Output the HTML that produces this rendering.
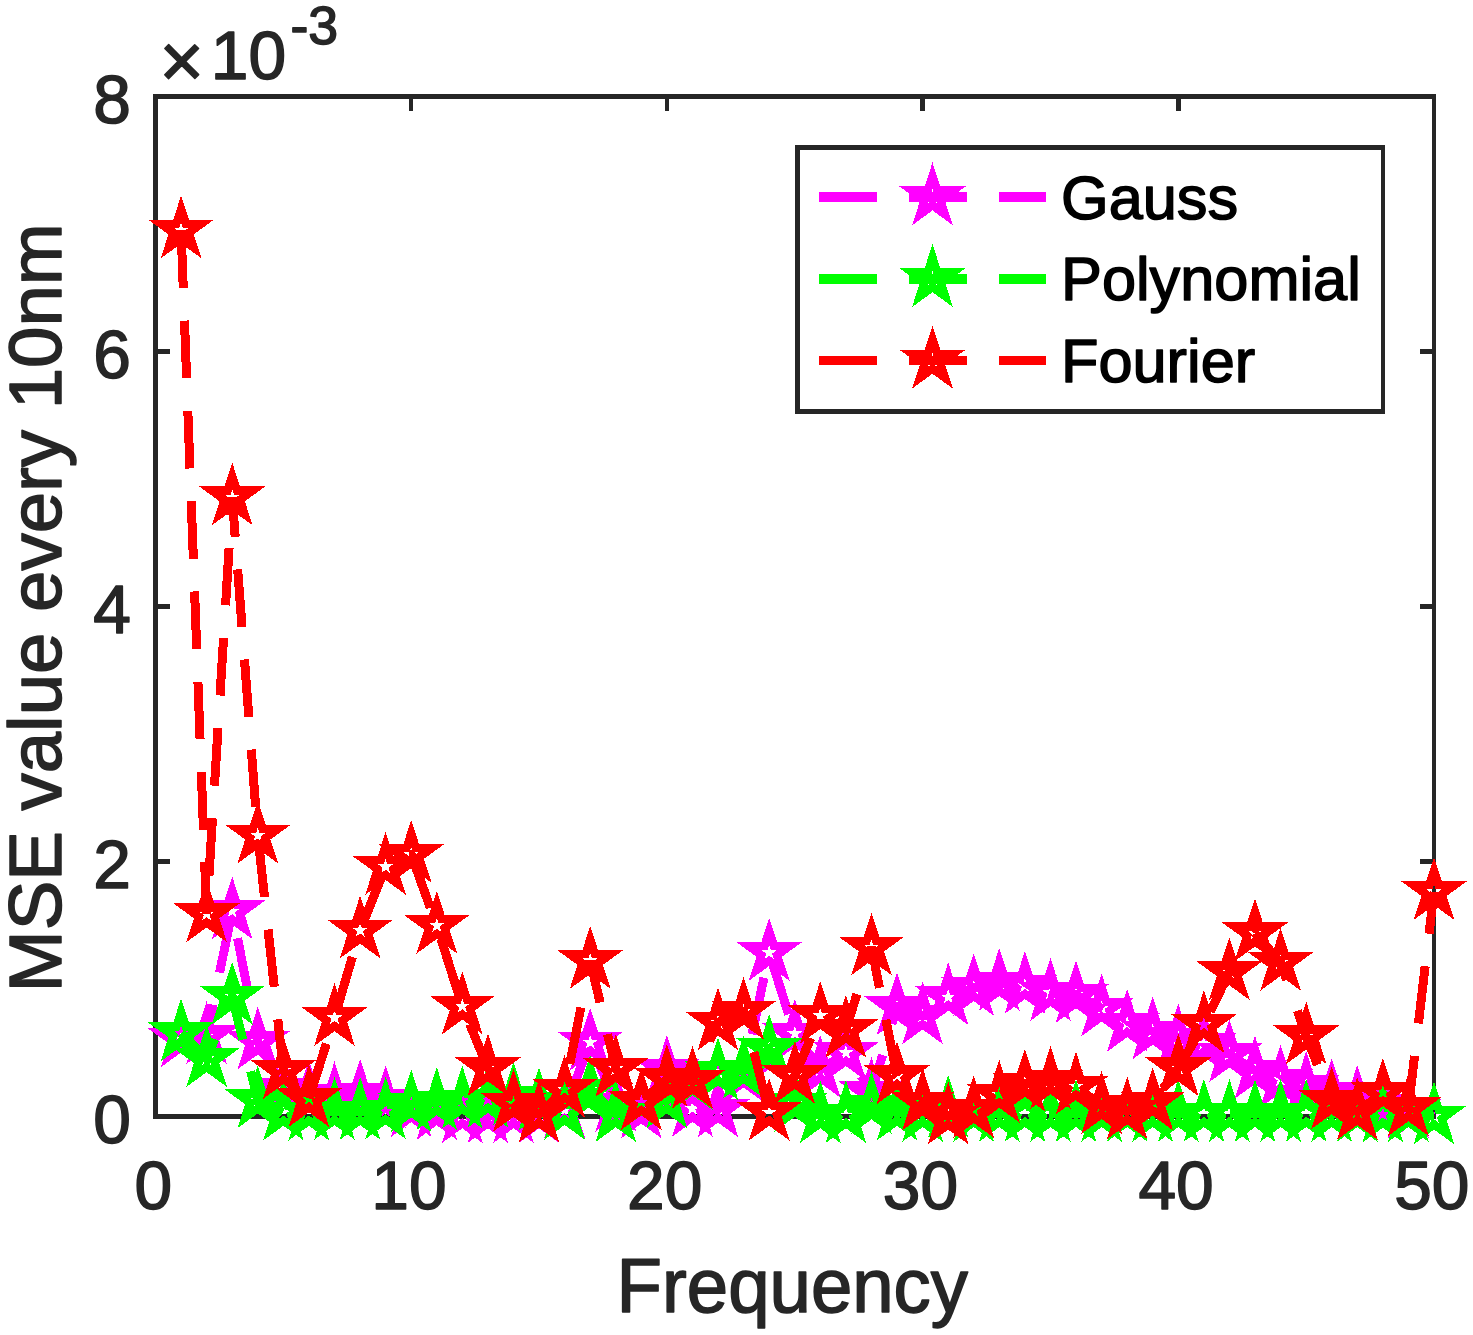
<!DOCTYPE html>
<html lang="en"><head><meta charset="utf-8"><title>MSE value every 10nm vs Frequency</title>
<style>html,body{margin:0;padding:0;background:#fff}body{width:1473px;height:1335px;overflow:hidden}</style>
</head><body>
<svg width="1473" height="1335" viewBox="0 0 1473 1335" style="display:block">
<defs><path id="st" d="M0.00 -21.30 L4.78 -6.58 L20.26 -6.58 L7.74 2.51 L12.52 17.23 L0.00 8.14 L-12.52 17.23 L-7.74 2.51 L-20.26 -6.58 L-4.78 -6.58Z"/></defs>
<rect width="1473" height="1335" fill="#fff"/>
<g stroke="#262626" stroke-width="4.50" fill="none" shape-rendering="crispEdges">
<rect x="155.5" y="96.4" width="1278.5" height="1019.9"/>
<path d="M411.2 1116.3V1102.1 M411.2 96.4V110.6"/>
<path d="M666.9 1116.3V1102.1 M666.9 96.4V110.6"/>
<path d="M922.6 1116.3V1102.1 M922.6 96.4V110.6"/>
<path d="M1178.3 1116.3V1102.1 M1178.3 96.4V110.6"/>
<path d="M155.5 861.3H169.7 M1434.0 861.3H1419.8"/>
<path d="M155.5 606.3H169.7 M1434.0 606.3H1419.8"/>
<path d="M155.5 351.4H169.7 M1434.0 351.4H1419.8"/>
</g>
<g shape-rendering="crispEdges">
<polyline fill="none" stroke="#ff00ff" stroke-width="9.00" stroke-dasharray="57.65 32.7" stroke-linejoin="miter" points="181.1,1039.2 206.6,1036.0 232.2,911.2 257.8,1041.3 283.4,1088.3 308.9,1094.6 334.5,1096.2 360.1,1093.6 385.6,1100.1 411.2,1109.0 436.8,1112.0 462.3,1115.0 487.9,1115.0 513.5,1115.0 539.0,1115.0 564.6,1109.9 590.2,1042.4 615.8,1103.6 641.3,1110.4 666.9,1069.8 692.5,1108.7 718.0,1109.3 743.6,1074.2 769.2,952.7 794.8,1033.9 820.3,1069.8 845.9,1052.8 871.5,1092.1 897.0,1007.0 922.6,1016.2 948.2,997.1 973.7,987.8 999.3,982.7 1024.9,985.8 1050.5,992.9 1076.0,994.9 1101.6,1008.3 1127.2,1023.9 1152.7,1031.4 1178.3,1038.5 1203.9,1043.6 1229.4,1054.2 1255.0,1070.7 1280.6,1079.6 1306.2,1086.0 1331.7,1093.1 1357.3,1099.7 1382.9,1104.8 1408.4,1109.9 1434.0,1116.3"/>
<g fill="none" stroke="#ff00ff" stroke-width="8.33" stroke-linejoin="miter" stroke-miterlimit="10">
<use href="#st" x="181.1" y="1039.2"/>
<use href="#st" x="206.6" y="1036.0"/>
<use href="#st" x="232.2" y="911.2"/>
<use href="#st" x="257.8" y="1041.3"/>
<use href="#st" x="283.4" y="1088.3"/>
<use href="#st" x="308.9" y="1094.6"/>
<use href="#st" x="334.5" y="1096.2"/>
<use href="#st" x="360.1" y="1093.6"/>
<use href="#st" x="385.6" y="1100.1"/>
<use href="#st" x="411.2" y="1109.0"/>
<use href="#st" x="436.8" y="1112.0"/>
<use href="#st" x="462.3" y="1115.0"/>
<use href="#st" x="487.9" y="1115.0"/>
<use href="#st" x="513.5" y="1115.0"/>
<use href="#st" x="539.0" y="1115.0"/>
<use href="#st" x="564.6" y="1109.9"/>
<use href="#st" x="590.2" y="1042.4"/>
<use href="#st" x="615.8" y="1103.6"/>
<use href="#st" x="641.3" y="1110.4"/>
<use href="#st" x="666.9" y="1069.8"/>
<use href="#st" x="692.5" y="1108.7"/>
<use href="#st" x="718.0" y="1109.3"/>
<use href="#st" x="743.6" y="1074.2"/>
<use href="#st" x="769.2" y="952.7"/>
<use href="#st" x="794.8" y="1033.9"/>
<use href="#st" x="820.3" y="1069.8"/>
<use href="#st" x="845.9" y="1052.8"/>
<use href="#st" x="871.5" y="1092.1"/>
<use href="#st" x="897.0" y="1007.0"/>
<use href="#st" x="922.6" y="1016.2"/>
<use href="#st" x="948.2" y="997.1"/>
<use href="#st" x="973.7" y="987.8"/>
<use href="#st" x="999.3" y="982.7"/>
<use href="#st" x="1024.9" y="985.8"/>
<use href="#st" x="1050.5" y="992.9"/>
<use href="#st" x="1076.0" y="994.9"/>
<use href="#st" x="1101.6" y="1008.3"/>
<use href="#st" x="1127.2" y="1023.9"/>
<use href="#st" x="1152.7" y="1031.4"/>
<use href="#st" x="1178.3" y="1038.5"/>
<use href="#st" x="1203.9" y="1043.6"/>
<use href="#st" x="1229.4" y="1054.2"/>
<use href="#st" x="1255.0" y="1070.7"/>
<use href="#st" x="1280.6" y="1079.6"/>
<use href="#st" x="1306.2" y="1086.0"/>
<use href="#st" x="1331.7" y="1093.1"/>
<use href="#st" x="1357.3" y="1099.7"/>
<use href="#st" x="1382.9" y="1104.8"/>
<use href="#st" x="1408.4" y="1109.9"/>
<use href="#st" x="1434.0" y="1116.3"/>
</g></g>
<g shape-rendering="crispEdges">
<polyline fill="none" stroke="#00ff00" stroke-width="9.00" stroke-dasharray="57.65 32.7" stroke-linejoin="miter" points="181.1,1033.2 206.6,1058.9 232.2,996.5 257.8,1100.2 283.4,1112.5 308.9,1112.5 334.5,1111.8 360.1,1111.8 385.6,1111.2 411.2,1104.2 436.8,1102.0 462.3,1100.5 487.9,1099.7 513.5,1096.8 539.0,1102.3 564.6,1111.7 590.2,1089.5 615.8,1114.0 641.3,1102.1 666.9,1100.2 692.5,1081.9 718.0,1072.2 743.6,1070.3 769.2,1049.0 794.8,1103.6 820.3,1115.0 845.9,1115.0 871.5,1106.1 897.0,1112.5 922.6,1113.8 948.2,1109.9 973.7,1113.8 999.3,1113.8 1024.9,1113.8 1050.5,1113.8 1076.0,1113.8 1101.6,1113.8 1127.2,1113.8 1152.7,1113.8 1178.3,1113.8 1203.9,1113.8 1229.4,1113.8 1255.0,1113.8 1280.6,1113.8 1306.2,1113.8 1331.7,1113.8 1357.3,1113.8 1382.9,1114.4 1408.4,1113.8 1434.0,1116.3"/>
<g fill="none" stroke="#00ff00" stroke-width="8.33" stroke-linejoin="miter" stroke-miterlimit="10">
<use href="#st" x="181.1" y="1033.2"/>
<use href="#st" x="206.6" y="1058.9"/>
<use href="#st" x="232.2" y="996.5"/>
<use href="#st" x="257.8" y="1100.2"/>
<use href="#st" x="283.4" y="1112.5"/>
<use href="#st" x="308.9" y="1112.5"/>
<use href="#st" x="334.5" y="1111.8"/>
<use href="#st" x="360.1" y="1111.8"/>
<use href="#st" x="385.6" y="1111.2"/>
<use href="#st" x="411.2" y="1104.2"/>
<use href="#st" x="436.8" y="1102.0"/>
<use href="#st" x="462.3" y="1100.5"/>
<use href="#st" x="487.9" y="1099.7"/>
<use href="#st" x="513.5" y="1096.8"/>
<use href="#st" x="539.0" y="1102.3"/>
<use href="#st" x="564.6" y="1111.7"/>
<use href="#st" x="590.2" y="1089.5"/>
<use href="#st" x="615.8" y="1114.0"/>
<use href="#st" x="641.3" y="1102.1"/>
<use href="#st" x="666.9" y="1100.2"/>
<use href="#st" x="692.5" y="1081.9"/>
<use href="#st" x="718.0" y="1072.2"/>
<use href="#st" x="743.6" y="1070.3"/>
<use href="#st" x="769.2" y="1049.0"/>
<use href="#st" x="794.8" y="1103.6"/>
<use href="#st" x="820.3" y="1115.0"/>
<use href="#st" x="845.9" y="1115.0"/>
<use href="#st" x="871.5" y="1106.1"/>
<use href="#st" x="897.0" y="1112.5"/>
<use href="#st" x="922.6" y="1113.8"/>
<use href="#st" x="948.2" y="1109.9"/>
<use href="#st" x="973.7" y="1113.8"/>
<use href="#st" x="999.3" y="1113.8"/>
<use href="#st" x="1024.9" y="1113.8"/>
<use href="#st" x="1050.5" y="1113.8"/>
<use href="#st" x="1076.0" y="1113.8"/>
<use href="#st" x="1101.6" y="1113.8"/>
<use href="#st" x="1127.2" y="1113.8"/>
<use href="#st" x="1152.7" y="1113.8"/>
<use href="#st" x="1178.3" y="1113.8"/>
<use href="#st" x="1203.9" y="1113.8"/>
<use href="#st" x="1229.4" y="1113.8"/>
<use href="#st" x="1255.0" y="1113.8"/>
<use href="#st" x="1280.6" y="1113.8"/>
<use href="#st" x="1306.2" y="1113.8"/>
<use href="#st" x="1331.7" y="1113.8"/>
<use href="#st" x="1357.3" y="1113.8"/>
<use href="#st" x="1382.9" y="1114.4"/>
<use href="#st" x="1408.4" y="1113.8"/>
<use href="#st" x="1434.0" y="1116.3"/>
</g></g>
<g shape-rendering="crispEdges">
<polyline fill="none" stroke="#ff0000" stroke-width="9.00" stroke-dasharray="57.65 32.7" stroke-linejoin="miter" points="181.1,230.3 206.6,914.2 232.2,497.2 257.8,835.4 283.4,1070.8 308.9,1099.0 334.5,1017.9 360.1,930.4 385.6,866.8 411.2,854.8 436.8,925.6 462.3,1006.3 487.9,1068.1 513.5,1103.6 539.0,1114.4 564.6,1089.5 590.2,960.8 615.8,1068.9 641.3,1102.0 666.9,1078.7 692.5,1080.6 718.0,1022.3 743.6,1011.5 769.2,1112.5 794.8,1075.8 820.3,1015.8 845.9,1029.6 871.5,947.3 897.0,1076.1 922.6,1102.3 948.2,1116.3 973.7,1109.9 999.3,1094.6 1024.9,1083.5 1050.5,1081.0 1076.0,1086.5 1101.6,1105.8 1127.2,1111.2 1152.7,1102.3 1178.3,1068.2 1203.9,1024.9 1229.4,972.0 1255.0,933.2 1280.6,962.7 1306.2,1036.2 1331.7,1101.0 1357.3,1111.8 1382.9,1092.7 1408.4,1108.0 1434.0,891.9"/>
<g fill="none" stroke="#ff0000" stroke-width="8.33" stroke-linejoin="miter" stroke-miterlimit="10">
<use href="#st" x="181.1" y="230.3"/>
<use href="#st" x="206.6" y="914.2"/>
<use href="#st" x="232.2" y="497.2"/>
<use href="#st" x="257.8" y="835.4"/>
<use href="#st" x="283.4" y="1070.8"/>
<use href="#st" x="308.9" y="1099.0"/>
<use href="#st" x="334.5" y="1017.9"/>
<use href="#st" x="360.1" y="930.4"/>
<use href="#st" x="385.6" y="866.8"/>
<use href="#st" x="411.2" y="854.8"/>
<use href="#st" x="436.8" y="925.6"/>
<use href="#st" x="462.3" y="1006.3"/>
<use href="#st" x="487.9" y="1068.1"/>
<use href="#st" x="513.5" y="1103.6"/>
<use href="#st" x="539.0" y="1114.4"/>
<use href="#st" x="564.6" y="1089.5"/>
<use href="#st" x="590.2" y="960.8"/>
<use href="#st" x="615.8" y="1068.9"/>
<use href="#st" x="641.3" y="1102.0"/>
<use href="#st" x="666.9" y="1078.7"/>
<use href="#st" x="692.5" y="1080.6"/>
<use href="#st" x="718.0" y="1022.3"/>
<use href="#st" x="743.6" y="1011.5"/>
<use href="#st" x="769.2" y="1112.5"/>
<use href="#st" x="794.8" y="1075.8"/>
<use href="#st" x="820.3" y="1015.8"/>
<use href="#st" x="845.9" y="1029.6"/>
<use href="#st" x="871.5" y="947.3"/>
<use href="#st" x="897.0" y="1076.1"/>
<use href="#st" x="922.6" y="1102.3"/>
<use href="#st" x="948.2" y="1116.3"/>
<use href="#st" x="973.7" y="1109.9"/>
<use href="#st" x="999.3" y="1094.6"/>
<use href="#st" x="1024.9" y="1083.5"/>
<use href="#st" x="1050.5" y="1081.0"/>
<use href="#st" x="1076.0" y="1086.5"/>
<use href="#st" x="1101.6" y="1105.8"/>
<use href="#st" x="1127.2" y="1111.2"/>
<use href="#st" x="1152.7" y="1102.3"/>
<use href="#st" x="1178.3" y="1068.2"/>
<use href="#st" x="1203.9" y="1024.9"/>
<use href="#st" x="1229.4" y="972.0"/>
<use href="#st" x="1255.0" y="933.2"/>
<use href="#st" x="1280.6" y="962.7"/>
<use href="#st" x="1306.2" y="1036.2"/>
<use href="#st" x="1331.7" y="1101.0"/>
<use href="#st" x="1357.3" y="1111.8"/>
<use href="#st" x="1382.9" y="1092.7"/>
<use href="#st" x="1408.4" y="1108.0"/>
<use href="#st" x="1434.0" y="891.9"/>
</g></g>
<text transform="translate(153.3 1209.0) scale(1 1.000)" font-family="'Liberation Sans', Arial, sans-serif" font-size="67.7" fill="#262626" stroke="#262626" stroke-width="1.5" stroke-linejoin="round" text-anchor="middle">0</text>
<text transform="translate(409.0 1209.0) scale(1 1.000)" font-family="'Liberation Sans', Arial, sans-serif" font-size="67.7" fill="#262626" stroke="#262626" stroke-width="1.5" stroke-linejoin="round" text-anchor="middle">10</text>
<text transform="translate(664.7 1209.0) scale(1 1.000)" font-family="'Liberation Sans', Arial, sans-serif" font-size="67.7" fill="#262626" stroke="#262626" stroke-width="1.5" stroke-linejoin="round" text-anchor="middle">20</text>
<text transform="translate(920.4 1209.0) scale(1 1.000)" font-family="'Liberation Sans', Arial, sans-serif" font-size="67.7" fill="#262626" stroke="#262626" stroke-width="1.5" stroke-linejoin="round" text-anchor="middle">30</text>
<text transform="translate(1176.1 1209.0) scale(1 1.000)" font-family="'Liberation Sans', Arial, sans-serif" font-size="67.7" fill="#262626" stroke="#262626" stroke-width="1.5" stroke-linejoin="round" text-anchor="middle">40</text>
<text transform="translate(1431.8 1209.0) scale(1 1.000)" font-family="'Liberation Sans', Arial, sans-serif" font-size="67.7" fill="#262626" stroke="#262626" stroke-width="1.5" stroke-linejoin="round" text-anchor="middle">50</text>
<text transform="translate(131.0 1142.9) scale(1 1.000)" font-family="'Liberation Sans', Arial, sans-serif" font-size="67.7" fill="#262626" stroke="#262626" stroke-width="1.5" stroke-linejoin="round" text-anchor="end">0</text>
<text transform="translate(131.0 887.9) scale(1 1.000)" font-family="'Liberation Sans', Arial, sans-serif" font-size="67.7" fill="#262626" stroke="#262626" stroke-width="1.5" stroke-linejoin="round" text-anchor="end">2</text>
<text transform="translate(131.0 632.9) scale(1 1.000)" font-family="'Liberation Sans', Arial, sans-serif" font-size="67.7" fill="#262626" stroke="#262626" stroke-width="1.5" stroke-linejoin="round" text-anchor="end">4</text>
<text transform="translate(131.0 378.0) scale(1 1.000)" font-family="'Liberation Sans', Arial, sans-serif" font-size="67.7" fill="#262626" stroke="#262626" stroke-width="1.5" stroke-linejoin="round" text-anchor="end">6</text>
<text transform="translate(131.0 123.0) scale(1 1.000)" font-family="'Liberation Sans', Arial, sans-serif" font-size="67.7" fill="#262626" stroke="#262626" stroke-width="1.5" stroke-linejoin="round" text-anchor="end">8</text>
<text transform="translate(159.5 87.0) scale(1 1.000)" font-family="'Liberation Sans', Arial, sans-serif" font-size="76.0" fill="#262626" stroke="#262626" stroke-width="1.5" stroke-linejoin="round" text-anchor="start">×</text>
<text transform="translate(210.8 78.6) scale(1 1.000)" font-family="'Liberation Sans', Arial, sans-serif" font-size="67.7" fill="#262626" stroke="#262626" stroke-width="1.5" stroke-linejoin="round" text-anchor="start">10</text>
<text transform="translate(290.5 44.3) scale(1 1.000)" font-family="'Liberation Sans', Arial, sans-serif" font-size="53.6" fill="#262626" stroke="#262626" stroke-width="1.5" stroke-linejoin="round" text-anchor="start">-3</text>
<text transform="translate(792.3 1311.7) scale(1 1.020)" font-family="'Liberation Sans', Arial, sans-serif" font-size="74.4" fill="#262626" stroke="#262626" stroke-width="1.5" stroke-linejoin="round" text-anchor="middle">Frequency</text>
<text transform="translate(60.7 607.8) rotate(-90) scale(1 1.000)" font-family="'Liberation Sans', Arial, sans-serif" font-size="74.4" fill="#262626" stroke="#262626" stroke-width="1.5" stroke-linejoin="round" text-anchor="middle">MSE value every 10nm</text>
<rect x="797.7" y="147.4" width="585.5" height="263.9" fill="#fff" stroke="#262626" stroke-width="4.6" shape-rendering="crispEdges"/>
<g shape-rendering="crispEdges" fill="none" stroke="#ff00ff" stroke-width="8.33">
<path d="M818.8 197.2H1046.2" stroke-dasharray="57.8 32.3" stroke-width="9.6"/>
<use href="#st" x="932.5" y="197.2" stroke-miterlimit="10"/>
</g>
<text transform="translate(1061.0 219.3) scale(1 1.000)" font-family="'Liberation Sans', Arial, sans-serif" font-size="61.3" fill="#000" stroke="#000" stroke-width="1.5" stroke-linejoin="round" text-anchor="start">Gauss</text>
<g shape-rendering="crispEdges" fill="none" stroke="#00ff00" stroke-width="8.33">
<path d="M818.8 278.9H1046.2" stroke-dasharray="57.8 32.3" stroke-width="9.6"/>
<use href="#st" x="932.5" y="278.9" stroke-miterlimit="10"/>
</g>
<text transform="translate(1061.0 300.4) scale(1 1.000)" font-family="'Liberation Sans', Arial, sans-serif" font-size="61.3" fill="#000" stroke="#000" stroke-width="1.5" stroke-linejoin="round" text-anchor="start">Polynomial</text>
<g shape-rendering="crispEdges" fill="none" stroke="#ff0000" stroke-width="8.33">
<path d="M818.8 360.5H1046.2" stroke-dasharray="57.8 32.3" stroke-width="9.6"/>
<use href="#st" x="932.5" y="360.5" stroke-miterlimit="10"/>
</g>
<text transform="translate(1061.0 381.7) scale(1 1.000)" font-family="'Liberation Sans', Arial, sans-serif" font-size="61.3" fill="#000" stroke="#000" stroke-width="1.5" stroke-linejoin="round" text-anchor="start">Fourier</text>
</svg>
</body></html>
